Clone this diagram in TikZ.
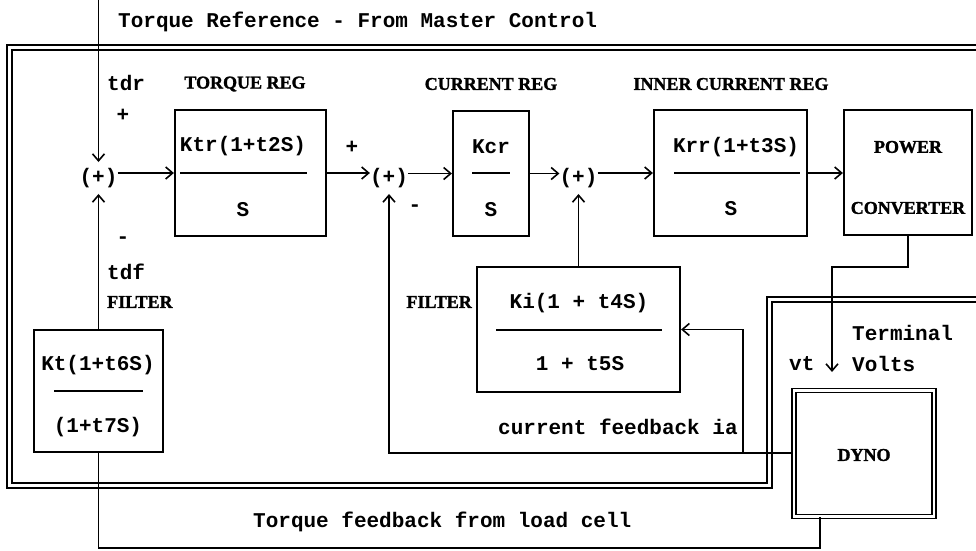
\documentclass[tikz,border=0pt]{standalone}
\usepackage{fontspec}
\newfontfamily\pmono{Liberation Mono}
\newfontfamily\pserif{Liberation Serif}[BoldFeatures={FakeBold=1.5}]
\usetikzlibrary{arrows.meta}
\tikzset{
  mono/.style={font=\pmono\bfseries\fontsize{21}{24}\selectfont, inner sep=0pt},
  lab/.style={font=\pserif\bfseries\fontsize{18}{20}\selectfont, inner sep=0pt},
  blk/.style={draw, line width=2.2pt, inner sep=0pt},
  conn/.style={line width=1.8pt},
  arr/.style={conn, -{Straight Barb[length=7pt,width=12pt,line width=1.6pt]}},
  frac/.style={line width=2.5pt},
  junc/.style={mono, inner xsep=0pt, inner ysep=6pt},
  dbl/.style={draw, line width=1.8pt, double distance=2.2pt, inner sep=0pt},
}
\begin{document}
\begin{tikzpicture}[x=1pt,y=-1pt]
\useasboundingbox (0,0) rectangle (976,550);
\clip (0,0) rectangle (976,550);
% outer frame (double line with notch)
\draw[line width=2pt, double distance=3pt] (9.5,47.5) -- (1000,47.5) -- (1000,299) -- (769,299) -- (769,485) -- (9.5,485) -- cycle;

% blocks
\node[blk, minimum width=151pt, minimum height=126pt] (tr) at (250.5,173) {};
\node[blk, minimum width=76pt,  minimum height=125pt] (cr) at (491,173.5) {};
\node[blk, minimum width=153pt, minimum height=126pt] (ir) at (730.5,173) {};
\node[blk, minimum width=128pt, minimum height=125pt] (pc) at (908,172.5) {};
\node[blk, minimum width=203pt, minimum height=125pt] (ki) at (578.5,329.5) {};
\node[blk, minimum width=129pt, minimum height=122pt] (kt) at (98.5,391) {};
\node[dbl, minimum width=140pt, minimum height=126pt] (dyno) at (864,453.5) {};

% junctions
\node[junc] (s1) at (98.5,178) {(+)};
\node[junc] (s2) at (389,178) {(+)};
\node[junc] (s3) at (578.5,178) {(+)};

% block contents
\node[mono] (trn) at (243,146) {Ktr(1+t2S)};
\draw[frac] (180,173) -- (307,173);
\node[mono] (trd) at (243,210) {S};
\node[mono] (crn) at (491,147) {Kcr};
\draw[frac] (472,173) -- (510,173);
\node[mono] (crd) at (491,210) {S};
\node[mono] (irn) at (736,147) {Krr(1+t3S)};
\draw[frac] (674,173) -- (800,173);
\node[mono] (ird) at (731,209) {S};
\node[lab] (pc1) at (908,147) {POWER};
\node[lab] (pc2) at (908,208) {CONVERTER};
\node[mono] (kin) at (579,303) {Ki(1 + t4S)};
\draw[frac] (496,330) -- (662,330);
\node[mono] (kid) at (580,364) {1 + t5S};
\node[mono] (ktn) at (98,365) {Kt(1+t6S)};
\draw[frac] (54,391) -- (143,391);
\node[mono] (ktd) at (98,427) {(1+t7S)};
\node[lab] (dynot) at (864,455) {DYNO};

% labels
\node[mono, anchor=west] (reft) at (118,22) {Torque Reference - From Master Control};
\node[mono, anchor=west] (tdr) at (107,83) {tdr};
\node[mono] (p1) at (123,115) {+};
\node[lab] (trl) at (245,84) {TORQUE REG};
\node[lab] (crl) at (491,84) {CURRENT REG};
\node[lab] (irl) at (731,84) {INNER CURRENT REG};
\node[mono] (p2) at (352,147) {+};
\node[mono] (m2) at (415,208) {-};
\node[mono] (m1) at (123,240) {-};
\node[mono, anchor=west] (tdf) at (107,272) {tdf};
\node[lab, anchor=west] (fl1) at (107,302) {FILTER};
\node[lab, anchor=east] (fl2) at (472,302) {FILTER};
\node[mono, anchor=west] (term) at (852,333) {Terminal};
\node[mono, anchor=west] (volts) at (852,364) {Volts};
\node[mono, anchor=west] (vt) at (789,364) {vt};
\node[mono, anchor=west] (cfb) at (498,427) {current feedback ia};
\node[mono, anchor=west] (tfbl) at (253,522) {Torque feedback from load cell};

% coordinates
\coordinate (tref) at (98.5,0);
\coordinate (fb) at (389,453);
\coordinate (br) at (743,453);
\coordinate (vtk) at (832,267);
\coordinate (vte) at (832,372);
\coordinate (tfb) at (820,548);

% forward path
\draw[arr] (tref) -- (s1.north);
\draw[arr] (s1.east |- tr.west) -- (tr.west);
\draw[arr] (tr.east) -- (s2.west |- tr.east);
\draw[arr] (s2.east |- cr.west) -- (cr.west);
\draw[arr] (cr.east) -- (s3.west |- cr.east);
\draw[arr] (s3.east |- ir.west) -- (ir.west);
\draw[arr] (ir.east) -- (pc.west |- ir.east);
\draw[arr] (pc.south) |- (vtk) -- (vte);

% feedback paths
\draw[arr] (kt.north) -- (s1.south);
\draw[arr] (ki.north) -- (s3.south);
\draw[arr] (dyno.west |- fb) -- (fb) -- (s2.south);
\draw[arr] (br) |- (ki.east);
\draw[conn] (dyno.south -| tfb) -- (tfb) -| (kt.south);
\end{tikzpicture}
\end{document}
